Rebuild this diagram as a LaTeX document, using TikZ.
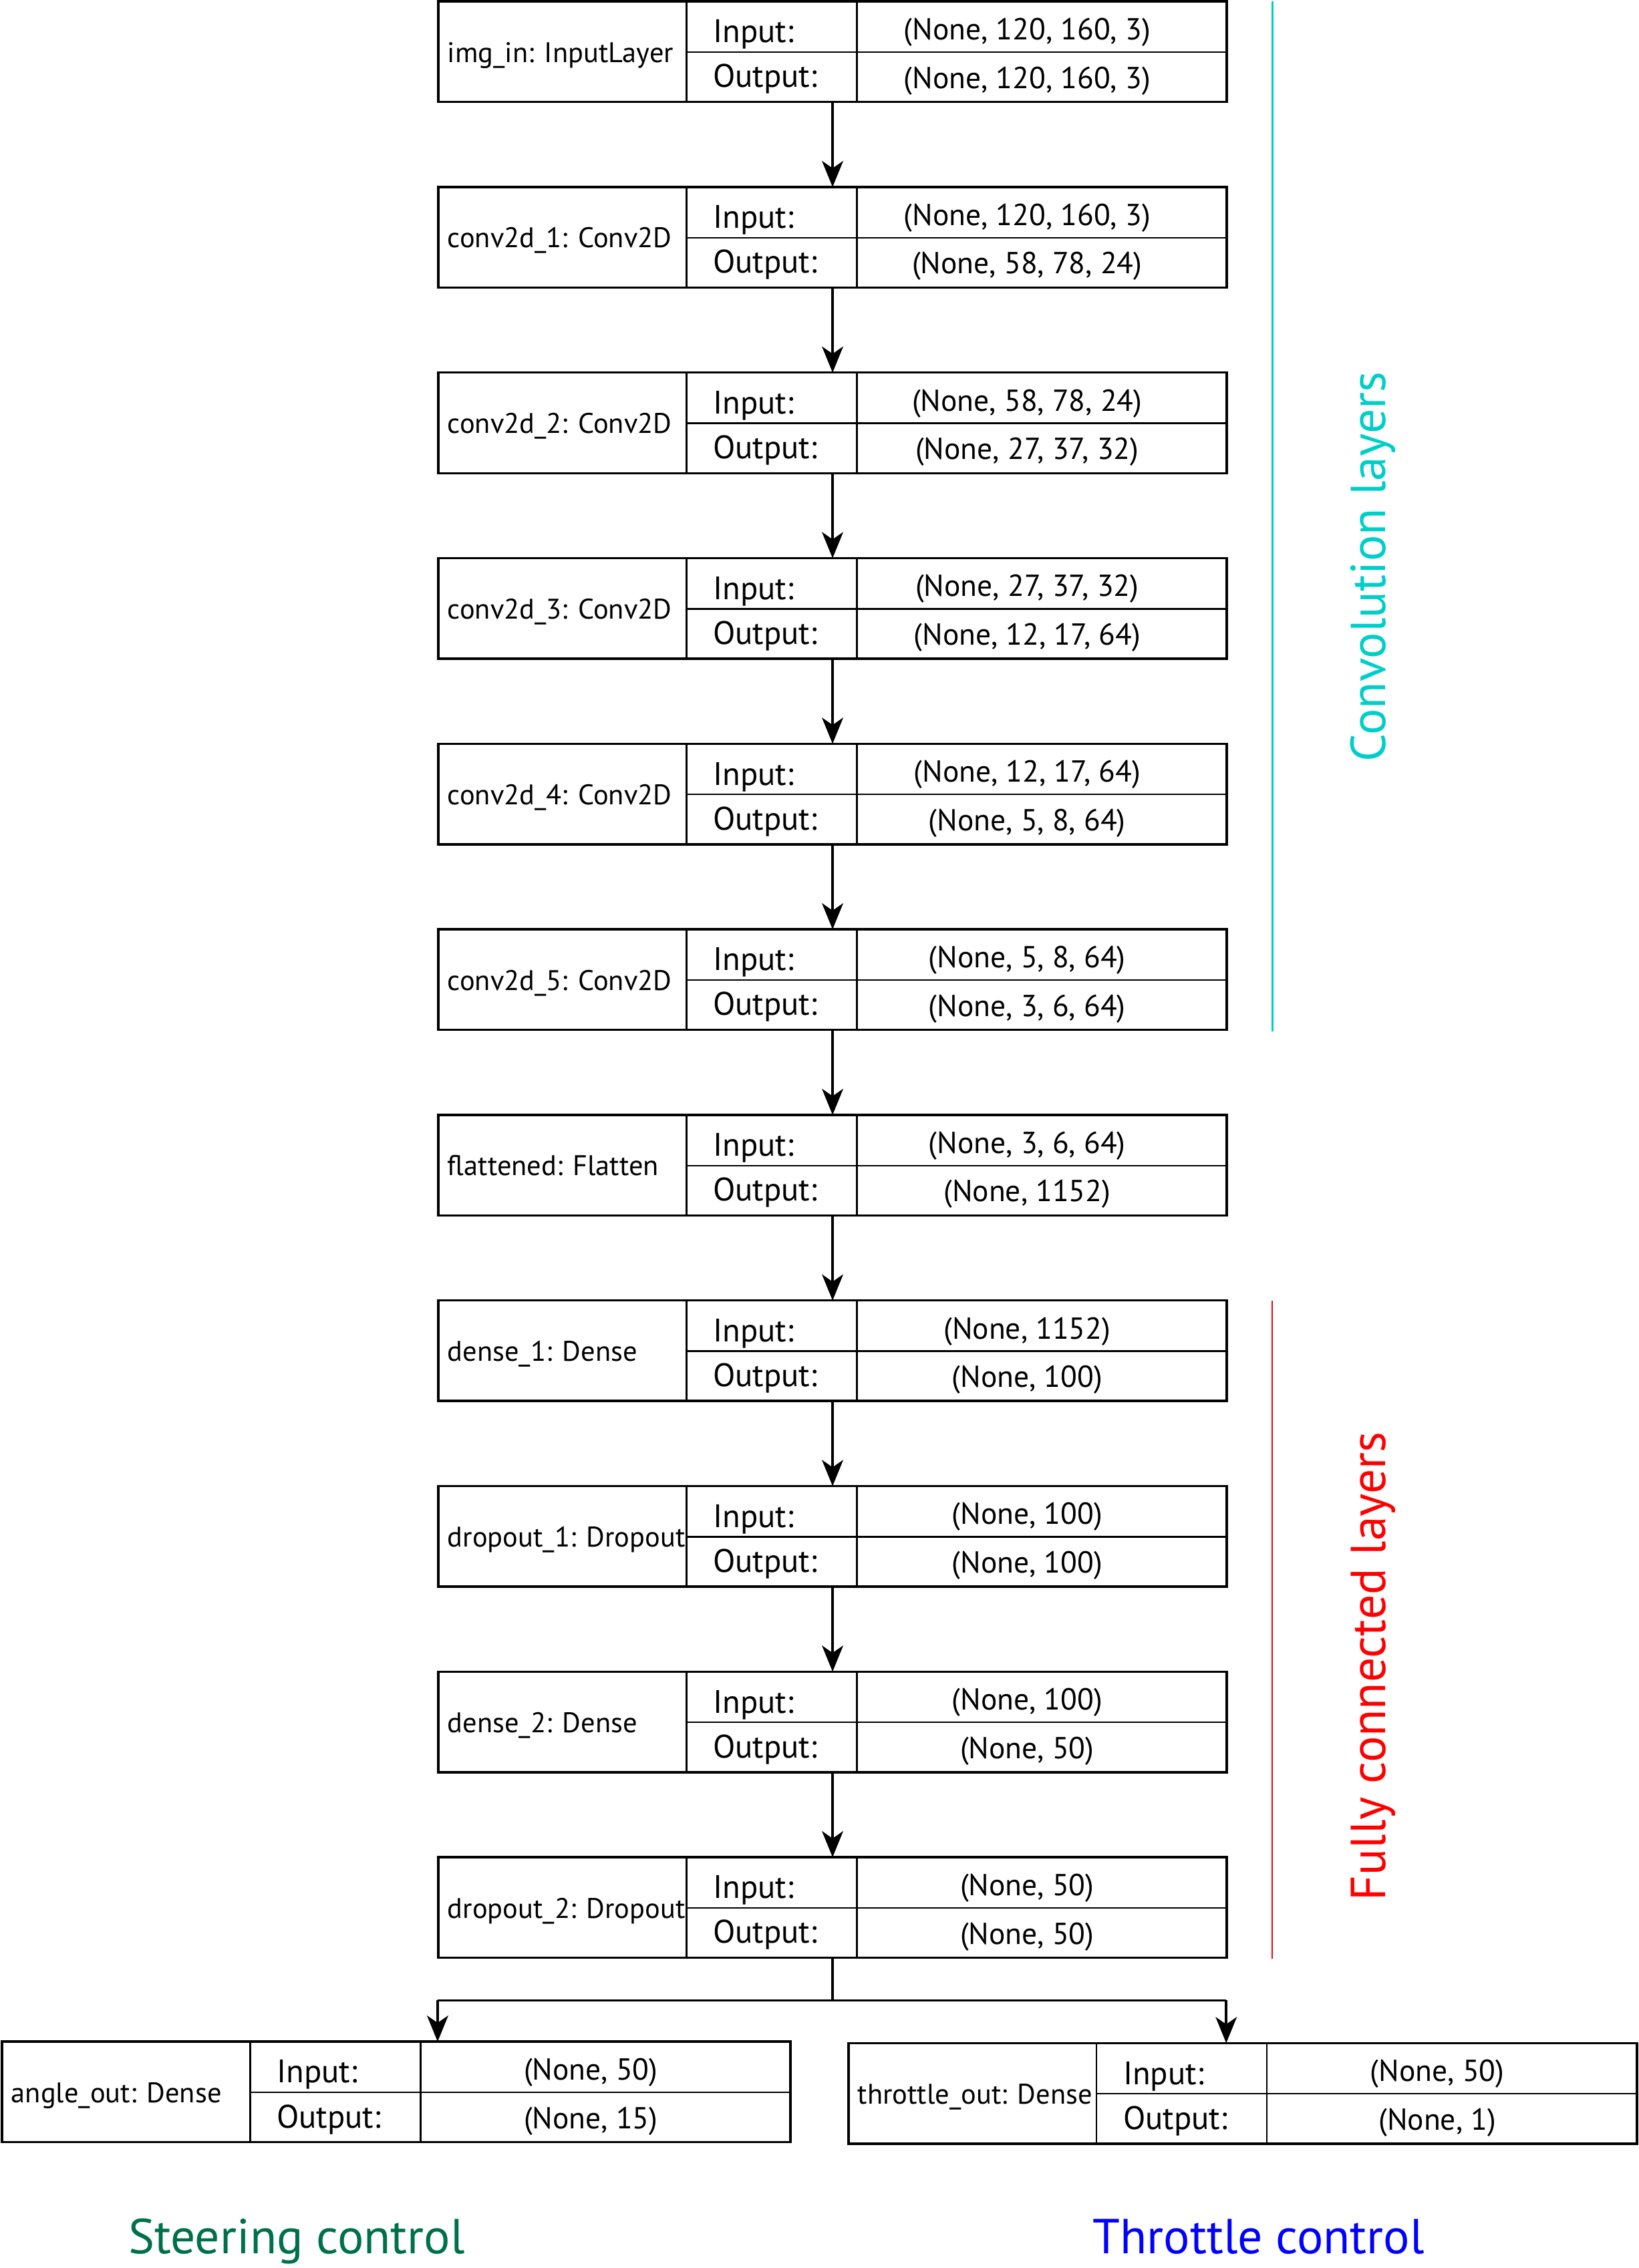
\documentclass[tikz,border=0pt]{standalone}
\usepackage{fontspec}
\setmainfont{PT Sans}
\usetikzlibrary{arrows.meta}
\definecolor{convc}{RGB}{0,206,201}
\definecolor{fcc}{RGB}{255,0,0}
\definecolor{steerc}{RGB}{0,112,74}
\definecolor{throtc}{RGB}{0,0,255}
\tikzset{
  lbox/.style={draw, line width=0.8pt, inner sep=0pt, outer sep=0pt, anchor=north west, minimum width=272.5pt, minimum height=34.75pt},
  gridln/.style={line width=0.55pt},
  nm/.style={font=\fontsize{9.8}{12}\selectfont, anchor=base west, inner sep=0pt},
  io/.style={font=\fontsize{11.25}{13}\selectfont, anchor=base west, inner sep=0pt},
  val/.style={font=\fontsize{10.5}{13}\selectfont, anchor=base, inner sep=0pt},
  flow/.style={line width=1pt, -{Stealth[length=9pt,width=7.3pt,inset=2.5pt]}},
  big/.style={font=\fontsize{17}{20}\selectfont, inner sep=0pt, anchor=base},
}
\newcommand\layerbox[6]{%
  \node[lbox] (#1) at (#2,#3) {};
  \draw[gridln] ({#2+171.5},#3) -- ({#2+171.5},{#3+69.5});
  \draw[gridln] ({#2+289.3},#3) -- ({#2+289.3},{#3+69.5});
  \draw[gridln] ({#2+171.5},{#3+35}) -- ({#2+545},{#3+35});
  \node[nm] (#1-name) at ({#2+6},{#3+42}) {#4};
  \node[io] (#1-il) at ({#2+189.5},{#3+28.5}) {Input:};
  \node[io] (#1-ol) at ({#2+189.5},{#3+59.5}) {Output:};
  \node[val] (#1-iv) at ({#2+407},{#3+26.5}) {#5};
  \node[val] (#1-ov) at ({#2+407},{#3+60}) {#6};
}
\begin{document}
\begin{tikzpicture}[x=0.5pt,y=-0.5pt]
\useasboundingbox (0,0) rectangle (1132.5,1568);
\layerbox{b1}{303}{1}{img\_in: InputLayer}{(None, 120, 160, 3)}{(None, 120, 160, 3)}
\layerbox{b2}{303}{129.3}{conv2d\_1: Conv2D}{(None, 120, 160, 3)}{(None, 58, 78, 24)}
\layerbox{b3}{303}{257.6}{conv2d\_2: Conv2D}{(None, 58, 78, 24)}{(None, 27, 37, 32)}
\layerbox{b4}{303}{385.9}{conv2d\_3: Conv2D}{(None, 27, 37, 32)}{(None, 12, 17, 64)}
\layerbox{b5}{303}{514.2}{conv2d\_4: Conv2D}{(None, 12, 17, 64)}{(None, 5, 8, 64)}
\layerbox{b6}{303}{642.5}{conv2d\_5: Conv2D}{(None, 5, 8, 64)}{(None, 3, 6, 64)}
\layerbox{b7}{303}{770.8}{flattened: Flatten}{(None, 3, 6, 64)}{(None, 1152)}
\layerbox{b8}{303}{899.1}{dense\_1: Dense}{(None, 1152)}{(None, 100)}
\layerbox{b9}{303}{1027.4}{dropout\_1: Dropout}{(None, 100)}{(None, 100)}
\layerbox{b10}{303}{1155.7}{dense\_2: Dense}{(None, 100)}{(None, 50)}
\layerbox{b11}{303}{1284}{dropout\_2: Dropout}{(None, 50)}{(None, 50)}
\layerbox{ang}{1.4}{1411.5}{angle\_out: Dense}{(None, 50)}{(None, 15)}
\layerbox{thr}{586.5}{1412.5}{throttle\_out: Dense}{(None, 50)}{(None, 1)}
\foreach \a/\b in {b1/b2,b2/b3,b3/b4,b4/b5,b5/b6,b6/b7,b7/b8,b8/b9,b9/b10,b10/b11}
  \draw[flow] (\a.south) -- (\b.north);
\coordinate (fork) at (575.5,1383);
\coordinate (forkL) at (302.5,1383);
\coordinate (forkR) at (847.6,1383);
\draw[line width=1pt] (b11.south) -- (fork);
\draw[line width=0.8pt] (forkL) -- (forkR);
\draw[flow] (forkL) -- (forkL |- ang.north);
\draw[flow] (forkR) -- (forkR |- thr.north);
\draw[convc, line width=0.6pt] (879.5,1) -- (879.5,713);
\draw[fcc, line width=0.4pt] (879.5,899) -- (879.5,1354);
\node[big, text=convc, rotate=90] (convlab) at (957.6,391.8) {Convolution layers};
\node[big, text=fcc, rotate=90] (fclab) at (957.6,1152) {Fully connected layers};
\node[big, text=steerc] (steer) at (205,1558) {Steering control};
\node[big, text=throtc] (throt) at (870,1558) {Throttle control};
\end{tikzpicture}
\end{document}
